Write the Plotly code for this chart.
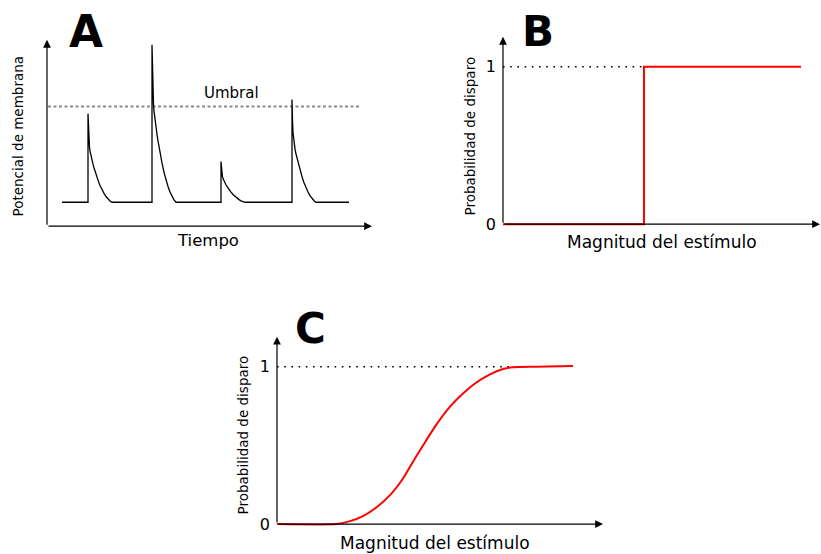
import plotly.graph_objects as go

W, H = 821, 554

# ---------------- Panel A data (membrane potential vs time) ----------------
t_start, t_end = 15, 302
baseline = -70.0
threshold = -55.0
spike_times = [41, 105, 174, 245]
spike_peaks = [-56.1, -45.3, -63.6, -53.9]
decay_offsets = [0, 0.5, 1, 1.5, 2, 3, 4, 5, 6, 7, 8, 10, 12, 14, 16, 18, 20, 22, 24]
decay_fractions = [1.0, 0.80, 0.68, 0.62, 0.58, 0.52, 0.47, 0.43, 0.39, 0.35, 0.31,
                   0.25, 0.19, 0.14, 0.10, 0.065, 0.035, 0.015, 0.0]
threshold_span = [1, 313]
time_range = [0, 325]
vm_range = [-73.75, -44.53]

# ---------------- Panel B data (step probability) ----------------
step_x = [0, 14.1, 14.1, 29.8]
step_y = [0, 0, 1, 1]
b_ref_x = [0, 14.8]
b_x_range = [-0.5, 31.7]
prob_range = [-0.05, 1.19]

# ---------------- Panel C data (sigmoid probability) ----------------
sig_x = [0, 5.9, 7.3, 8.6, 9.9, 11.3, 12.6, 13.9, 14.9, 15.9, 17.3, 18.6,
         19.9, 21.3, 22.6, 23.6, 25.9, 29.6]
sig_y = [0, 0, 0.019, 0.051, 0.104, 0.184, 0.290, 0.428, 0.530, 0.629,
         0.746, 0.830, 0.898, 0.951, 0.985, 0.997, 1.0, 1.004]
c_ref_x = [0, 23.6]
c_x_range = [-0.5, 32.6]

prob_ticks = [0, 1]
prob_ticktext = ["0", "1"]

# build panel A trace from the data
ax_x = [t_start]
ax_y = [baseline]
for t, pk in zip(spike_times, spike_peaks):
    ax_x.append(t)
    ax_y.append(baseline)
    for o, f in zip(decay_offsets, decay_fractions):
        ax_x.append(t + o)
        ax_y.append(baseline + f * (pk - baseline))
ax_x.append(t_end)
ax_y.append(baseline)


def px(x):
    return x / W


def py(y):
    return 1 - y / H


FONT = "DejaVu Sans"

fig = go.Figure()

# Panel A
fig.add_trace(go.Scatter(x=threshold_span, y=[threshold, threshold], mode="lines",
                         line=dict(color="#8a8a8a", width=2, dash="3px,2.5px"),
                         xaxis="x", yaxis="y", hoverinfo="skip"))
fig.add_trace(go.Scatter(x=ax_x, y=ax_y, mode="lines",
                         line=dict(color="black", width=1.3),
                         xaxis="x", yaxis="y"))

# Panel B
fig.add_trace(go.Scatter(x=b_ref_x, y=[1, 1], mode="lines",
                         line=dict(color="black", width=1.6, dash="1.6px,5.6px"),
                         xaxis="x2", yaxis="y2", hoverinfo="skip"))
fig.add_trace(go.Scatter(x=step_x, y=step_y, mode="lines",
                         line=dict(color="#ff0000", width=2),
                         xaxis="x2", yaxis="y2"))

# Panel C
fig.add_trace(go.Scatter(x=c_ref_x, y=[1, 1], mode="lines",
                         line=dict(color="black", width=1.6, dash="1.6px,5.6px"),
                         xaxis="x3", yaxis="y3", hoverinfo="skip"))
fig.add_trace(go.Scatter(x=sig_x, y=sig_y, mode="lines",
                         line=dict(color="#ff0000", width=2, shape="spline", smoothing=0.5),
                         xaxis="x3", yaxis="y3"))

hidden = dict(showgrid=False, zeroline=False, showline=False, showticklabels=False,
              ticks="", fixedrange=True)
prob_axis = dict(showgrid=False, zeroline=False, showline=False, ticks="",
                 tickvals=prob_ticks, ticktext=prob_ticktext, fixedrange=True,
                 tickfont=dict(family=FONT, size=16, color="black"),
                 ticklabelstandoff=1, range=prob_range)

fig.update_layout(
    width=W, height=H, margin=dict(l=0, r=0, t=0, b=0),
    paper_bgcolor="white", plot_bgcolor="white", showlegend=False,
    xaxis=dict(hidden, domain=[px(47), px(372)], range=time_range, anchor="y"),
    yaxis=dict(hidden, domain=[py(227), py(40)], range=vm_range, anchor="x"),
    xaxis2=dict(hidden, domain=[px(498), px(820)], range=b_x_range, anchor="y2"),
    yaxis2=dict(prob_axis, domain=[py(232.9), py(37)], anchor="x2"),
    xaxis3=dict(hidden, domain=[px(272), px(603)], range=c_x_range, anchor="y3"),
    yaxis3=dict(prob_axis, domain=[py(533.9), py(338)], anchor="x3"),
)

ann = []


def arrow(xr, yr, x0, y0, x1, y1):
    ann.append(dict(x=x1, y=y1, ax=x0, ay=y0, xref=xr, yref=yr, axref=xr, ayref=yr,
                    showarrow=True, arrowhead=2, arrowsize=1.3, arrowwidth=1.2,
                    arrowcolor="black", text="", standoff=0, startstandoff=0))


arrow("x", "y", time_range[0], vm_range[0], time_range[1], vm_range[0])
arrow("x", "y", time_range[0], vm_range[0], time_range[0], vm_range[1])
arrow("x2", "y2", 0, 0, b_x_range[1], 0)
arrow("x2", "y2", 0, 0, 0, prob_range[1])
arrow("x3", "y3", 0, 0, c_x_range[1], 0)
arrow("x3", "y3", 0, 0, 0, prob_range[1])


def label(text, x, y, size, bold=False, angle=0):
    ann.append(dict(text=f"<b>{text}</b>" if bold else text, x=px(x), y=py(y),
                    xref="paper", yref="paper", showarrow=False, xanchor="center",
                    yanchor="middle", textangle=angle,
                    font=dict(family=FONT, size=size, color="black")))


label("A", 86, 32, 44, bold=True)
label("B", 538, 32, 42, bold=True)
label("C", 310, 330, 42, bold=True)
label("Umbral", 231, 93, 15)
label("Tiempo", 208, 241, 16.5)
label("Magnitud del estímulo", 662, 243, 17)
label("Magnitud del estímulo", 435, 545, 17)
label("Potencial de membrana", 18, 137, 13.5, angle=-90)
label("Probabilidad de disparo", 470, 137, 13.5, angle=-90)
label("Probabilidad de disparo", 243, 436, 13.5, angle=-90)

fig.update_layout(annotations=ann)

fig.write_html("out.html", config={"displayModeBar": False},
               post_script="document.body.style.margin='0px';document.body.style.overflow='hidden';")
